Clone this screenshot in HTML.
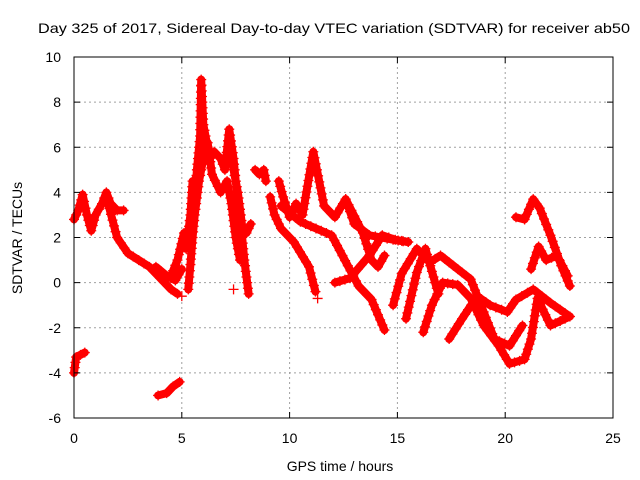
<!DOCTYPE html>
<html><head><meta charset="utf-8"><style>
body{margin:0;background:#fff;}
svg{display:block;font-family:"Liberation Sans",sans-serif;}
</style></head><body>
<svg id="chart" width="640" height="480" viewBox="0 0 640 480">
<rect width="640" height="480" fill="#fff"/>
<g id="grid"></g>
<g id="series"></g>
<rect x="74" y="57" width="539" height="361" fill="none" stroke="#000" stroke-width="1"/>
<g id="ticks"></g>
<text x="334" y="33" font-size="14" text-anchor="middle" textLength="592" lengthAdjust="spacingAndGlyphs">Day 325 of 2017, Sidereal Day-to-day VTEC variation (SDTVAR) for receiver ab50</text>
<text x="340" y="471" font-size="14" text-anchor="middle">GPS time / hours</text>
<text transform="translate(22,238) rotate(-90)" font-size="14" text-anchor="middle">SDTVAR / TECUs</text>
</svg>
<script>
const xTicks=[0,5,10,15,20,25];
const yTicks=[-6,-4,-2,0,2,4,6,8,10];
const track1=[[0,2.8],[0.2,3.2],[0.4,3.9],[0.6,3.0],[0.8,2.3],[1.0,3.0],[1.3,3.5],[1.5,4.0],[1.7,3.5],[2.0,3.2],[2.3,3.2]];
const track2=[[1.5,3.8],[2.0,2.0],[2.5,1.3],[3.0,1.0],[3.5,0.7],[4.0,0.2],[4.5,-0.3],[4.8,-0.5]];
const track3=[[3.8,0.7],[4.3,0.3],[4.7,0.1],[5.0,0.6]];
const track4=[[4.5,0.3],[4.8,1.0],[5.1,2.2]];
const track5=[[0,-4.0],[0.1,-3.3],[0.5,-3.1]];
const track6=[[3.9,-5.0],[4.3,-4.9],[4.6,-4.6],[4.9,-4.4]];
const track7=[[5.2,1.5],[5.4,3.0],[5.5,4.5],[5.6,3.5],[5.7,5.0],[5.85,6.5],[5.9,9.0],[6.0,7.0],[6.1,6.5],[6.3,5.5],[6.5,5.8],[6.8,5.5],[7.0,5.0],[7.2,6.8],[7.4,5.5],[7.5,4.5],[7.7,3.0],[7.9,1.0],[8.1,-0.5]];
const track8=[[5.3,-0.3],[5.4,0.8],[5.5,2.0],[5.6,3.0],[5.8,4.5],[6.0,5.5],[6.2,6.2],[6.4,4.8],[6.8,4.0],[7.1,4.5],[7.3,3.5],[7.5,2.0],[7.7,1.0]];
const track9=[[7.3,5.5],[7.6,4.0],[7.8,2.5],[8.0,2.2],[8.2,2.6]];
const track10=[[8.4,5.0],[8.6,4.8],[8.8,5.0],[8.9,4.5]];
const track11=[[9.1,3.8],[9.3,3.0],[9.6,2.4],[10.2,1.8],[10.9,0.7],[11.2,-0.4]];
const track12=[[9.5,4.5],[9.7,3.8],[10.0,2.9],[10.3,3.5],[10.6,3.0],[11.1,5.8],[11.6,3.4],[12.1,2.9],[12.6,3.7],[13.0,2.6],[13.7,2.1],[14.8,1.9],[15.5,1.8]];
const track13=[[9.6,3.4],[10.5,2.7],[11.95,2.1],[12.7,0.75],[13.2,-0.15],[13.8,-0.75],[14.4,-2.1]];
const track14=[[12.1,0.0],[12.8,0.2],[13.7,1.2],[14.3,2.1],[14.9,1.9],[15.5,1.8]];
const track15=[[12.6,3.7],[13.4,2.2],[13.8,1.0],[14.1,0.7],[14.4,1.2]];
const track16=[[14.8,-1.0],[15.2,0.4],[15.9,1.5],[16.5,0.9],[17.0,1.2],[17.8,0.6],[18.4,0.15],[19.0,-1.3],[19.5,-2.5],[20.2,-2.8],[20.8,-1.9]];
const track17=[[16.2,-2.2],[16.6,-1.0],[17.1,0.0],[17.8,-0.1],[18.4,-0.7],[19.0,-1.9],[19.7,-2.8],[20.2,-3.6],[20.9,-3.4],[21.2,-2.5],[21.5,-0.7],[22.1,-1.9],[23.0,-1.5]];
const track18=[[17.4,-2.5],[18.0,-1.6],[18.7,-0.6],[19.3,-1.0],[20.1,-1.3],[20.5,-0.75],[21.3,-0.3],[22.1,-0.9],[23.0,-1.5]];
const track19=[[15.4,-1.6],[15.9,0.45],[16.3,1.5],[16.6,0.5],[16.9,-0.5]];
const track20=[[20.5,2.9],[20.9,2.8],[21.3,3.7],[21.6,3.3],[22.1,2.1],[22.6,0.75],[23.0,-0.15]];
const track21=[[21.2,0.6],[21.55,1.6],[21.9,1.0],[22.4,1.2],[22.9,0.3]];
const track22=[[5.0,-0.6],[7.4,-0.3],[11.3,-0.7]];
const tracks=[track1,track2,track3,track4,track5,track6,track7,track8,track9,track10,track11,track12,track13,track14,track15,track16,track17,track18,track19,track20,track21];
const singles=track22;

const X0=74,X1=613,Y0=418,Y1=57;
function sx(t){return X0+(t-0)/(25-0)*(X1-X0);}
function sy(v){return Y0-(v-(-6))/(10-(-6))*(Y0-Y1);}
const NS='http://www.w3.org/2000/svg';
function mk(tag,attrs,parent){const e=document.createElementNS(NS,tag);for(const k in attrs)e.setAttribute(k,attrs[k]);parent.appendChild(e);return e;}
const grid=document.getElementById('grid'),ticks=document.getElementById('ticks'),ser=document.getElementById('series');
xTicks.forEach(t=>{
  const x=sx(t);
  if(t>0&&t<25){const g=mk('line',{x1:x,x2:x,y1:Y1,y2:Y0,stroke:'#a0a0a0','stroke-dasharray':'2,3'},grid);
  
  }
  const a=mk('line',{x1:x,x2:x,y1:Y0,y2:Y0-6,stroke:'#000'},ticks);
  
  
  const b=mk('line',{x1:x,x2:x,y1:Y1,y2:Y1+6,stroke:'#000'},ticks);
  
  
  const l=mk('text',{x:x,y:443,'font-size':14,'text-anchor':'middle'},ticks);
  l.textContent=t;
  
  
});
yTicks.forEach(v=>{
  const y=sy(v);
  if(v>-6&&v<10){const g=mk('line',{x1:X0,x2:X1,y1:y,y2:y,stroke:'#a0a0a0','stroke-dasharray':'2,3'},grid);
  
  }
  const a=mk('line',{x1:X0,x2:X0+6,y1:y,y2:y,stroke:'#000'},ticks);
  
  
  const b=mk('line',{x1:X1,x2:X1-6,y1:y,y2:y,stroke:'#000'},ticks);
  
  
  const l=mk('text',{x:61,y:y+5,'font-size':14,'text-anchor':'end'},ticks);
  l.textContent=v;
  
  
});
function plusPx(x,y){
  const p=mk('path',{d:`M${x-5},${y}H${x+5}M${x},${y-5}V${y+5}`,stroke:'#f00','stroke-width':1.3,fill:'none'},ser);
  
  
}
tracks.forEach((tr,i)=>{
  const pts=tr.map(p=>[sx(p[0]),sy(p[1])]);
  const pl=mk('polyline',{points:pts.map(p=>p[0]+','+p[1]).join(' '),fill:'none',stroke:'#f00','stroke-width':8,'stroke-linejoin':'round','stroke-linecap':'round'},ser);
  
  
  for(let k=0;k<pts.length-1;k++){
    const [ax,ay]=pts[k],[bx,by]=pts[k+1];
    const n=Math.max(1,Math.round(Math.hypot(bx-ax,by-ay)/6));
    for(let j=0;j<n;j++){plusPx(ax+(bx-ax)*j/n,ay+(by-ay)*j/n);}
  }
  const last=pts[pts.length-1];plusPx(last[0],last[1]);
});
singles.forEach(p=>plusPx(sx(p[0]),sy(p[1])));
</script>
</body></html>
